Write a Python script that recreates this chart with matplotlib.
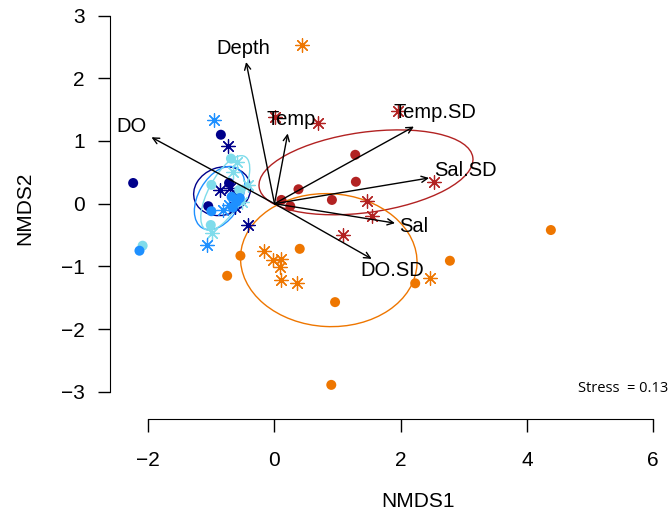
import matplotlib
matplotlib.use('Agg')
import matplotlib.pyplot as plt
from matplotlib.patches import Ellipse

plt.rcParams['font.family'] = ['Liberation Sans', 'DejaVu Sans']

# site scores, one group per colour: filled circles and asterisks
navy_dot_x = [-2.24, -0.85, -0.72, -1.05, -0.62]
navy_dot_y = [0.33, 1.10, 0.33, -0.04, 0.14]
navy_ast_x = [-0.73, -0.86, -0.71, -0.63, -0.42]
navy_ast_y = [0.92, 0.22, 0.25, -0.05, -0.34]

dodger_dot_x = [-2.14, -1.00, -0.68, -0.60, -0.55, -0.66]
dodger_dot_y = [-0.75, -0.12, 0.11, 0.03, 0.09, -0.06]
dodger_ast_x = [-0.96, -0.81, -1.07, -0.72]
dodger_ast_y = [1.34, -0.10, -0.66, -0.02]

cyan_dot_x = [-2.09, -0.69, -1.00, -1.01, -0.56]
cyan_dot_y = [-0.67, 0.72, 0.30, -0.34, 0.22]
cyan_ast_x = [-0.60, -0.65, -0.42, -0.99, -0.52]
cyan_ast_y = [0.67, 0.51, 0.30, -0.47, 0.02]

red_dot_x = [0.11, 0.25, 0.38, 0.91, 1.28, 1.29]
red_dot_y = [0.06, -0.04, 0.23, 0.06, 0.78, 0.35]
red_ast_x = [0.01, 0.69, 1.96, 2.52, 1.46, 1.54, 1.09]
red_ast_y = [1.38, 1.29, 1.48, 0.35, 0.05, -0.20, -0.50]

orange_dot_x = [-0.54, -0.75, 0.40, 0.96, 2.23, 2.78, 0.90, 4.38]
orange_dot_y = [-0.83, -1.15, -0.72, -1.57, -1.27, -0.91, -2.89, -0.42]
orange_ast_x = [-0.16, -0.03, 0.11, 0.08, 0.11, 0.35, 2.46, 0.43]
orange_ast_y = [-0.75, -0.90, -0.88, -1.01, -1.22, -1.27, -1.19, 2.53]

# group ellipses: centre x, centre y, width, height, angle
ell_x = [-0.83, -0.87, -0.78, 1.45, 0.86]
ell_y = [0.20, 0.09, 0.17, 0.50, -0.90]
ell_w = [0.92, 1.10, 1.32, 3.42, 2.80]
ell_h = [0.76, 0.67, 0.53, 1.28, 2.12]
ell_a = [20, 60, 62, 8, -3]

# envfit vectors
vec_names = ['Depth', 'Temp', 'Temp.SD', 'Sal.SD', 'Sal', 'DO.SD', 'DO']
vec_x = [-0.45, 0.21, 2.21, 2.45, 1.91, 1.54, -1.95]
vec_y = [2.26, 1.12, 1.23, 0.41, -0.31, -0.88, 1.06]
lab_x = [-0.49, 0.26, 2.54, 3.03, 2.20, 1.86, -2.26]
lab_y = [2.47, 1.35, 1.45, 0.53, -0.37, -1.07, 1.23]

navy = '#00008B'
dodger = '#1E90FF'
cyan = '#7FDCEB'
red = '#B22222'
orange = '#EE7600'

fig = plt.figure(figsize=(6.71, 5.25), dpi=100)
ax = fig.add_axes([110/671, 1 - 419.3/525, 561/671, 419.3/525])

ast = (8, 2, 0)
groups = [
    (navy, navy_dot_x, navy_dot_y, navy_ast_x, navy_ast_y),
    (cyan, cyan_dot_x, cyan_dot_y, cyan_ast_x, cyan_ast_y),
    (dodger, dodger_dot_x, dodger_dot_y, dodger_ast_x, dodger_ast_y),
    (red, red_dot_x, red_dot_y, red_ast_x, red_ast_y),
    (orange, orange_dot_x, orange_dot_y, orange_ast_x, orange_ast_y),
]
for col, dx, dy, sx, sy in groups:
    ax.scatter(dx, dy, s=52, color=col, edgecolors='none', zorder=3)
    ax.scatter(sx, sy, s=95, marker=ast, color=col, linewidths=0.9, zorder=3)

ell_cols = [navy, dodger, cyan, red, orange]
for i in range(len(ell_x)):
    ax.add_patch(Ellipse((ell_x[i], ell_y[i]), ell_w[i], ell_h[i], angle=ell_a[i],
                         fill=False, edgecolor=ell_cols[i], lw=1, zorder=2))

for i in range(len(vec_names)):
    ax.annotate('', xy=(vec_x[i], vec_y[i]), xytext=(0, 0),
                arrowprops=dict(arrowstyle='->,head_length=0.45,head_width=0.22',
                                color='black', lw=1, shrinkA=0, shrinkB=0),
                zorder=4)
    ax.text(lab_x[i], lab_y[i], vec_names[i], fontsize=14.5, ha='center', va='center',
            zorder=5)

ax.text(6.24, -2.94, 'Stress  = 0.13', fontsize=10.5, family='Open Sans',
        ha='right', va='center')

ax.set_xlim(-2.607, 6.284)
ax.set_ylim(-3.439, 3.249)
ax.set_xticks([-2, 0, 2, 4, 6])
ax.set_yticks([-3, -2, -1, 0, 1, 2, 3])
ax.set_xticklabels(['\u22122', '0', '2', '4', '6'])
ax.set_yticklabels(['\u22123', '\u22122', '\u22121', '0', '1', '2', '3'])
ax.spines['top'].set_visible(False)
ax.spines['right'].set_visible(False)
ax.spines['left'].set_bounds(-3, 3)
ax.spines['bottom'].set_bounds(-2, 6)
ax.tick_params(axis='both', length=9, width=1, labelsize=15)
ax.tick_params(axis='x', pad=14)
ax.tick_params(axis='y', pad=9)
ax.patch.set_visible(False)

ax.set_xlabel('NMDS1', fontsize=15, va='center')
ax.xaxis.set_label_coords((418 - 110) / 561, -(501.7 - 419.3) / 419.3)
ax.set_ylabel('NMDS2', fontsize=15, va='center')
ax.yaxis.set_label_coords(-(110 - 25) / 561, 1 - 208.5 / 419.3)

fig.savefig('out.png', dpi=100)
